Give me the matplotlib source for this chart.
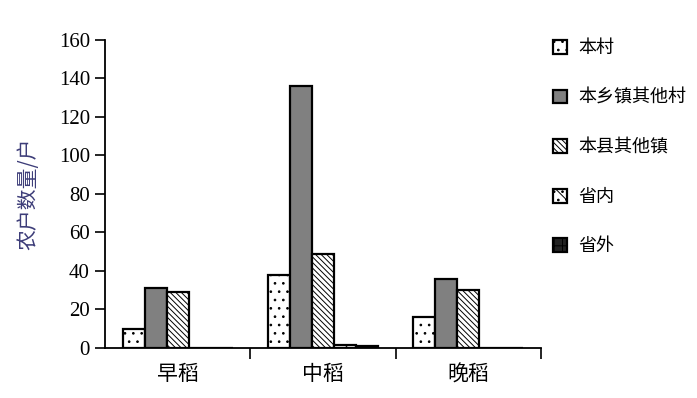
import numpy as np
import matplotlib.pyplot as plt

plt.rcParams['font.family'] = ['Noto Sans CJK SC', 'DejaVu Sans']
plt.rcParams['hatch.linewidth'] = 0.7

# ---- 数据 ----
seasons = ['早稻', '中稻', '晚稻']
series_names = ['本村', '本乡镇其他村', '本县其他镇', '省内', '省外']
bencun = [10, 38, 16]
qitacun = [31, 136, 36]
qitazhen = [29, 49, 30]
shengnei = [0, 1.5, 0]
shengwai = [0, 1, 0]
values = [bencun, qitacun, qitazhen, shengnei, shengwai]

facecolors = ['white', '#808080', 'white', 'white', '#222222']
hatches = ['..', None, '\\\\\\\\\\\\', '\\\\..', '++']

fig = plt.figure(figsize=(6.97, 3.98), dpi=100)
ax = fig.add_axes([0.151, 0.126, 0.625, 0.774])

x = np.arange(len(seasons))
w = 0.152
offsets = (np.arange(5) - 2) * w
for i in range(5):
    ax.bar(x + offsets[i], values[i], width=w, color=facecolors[i],
           edgecolor='black', linewidth=1.6, hatch=hatches[i],
           label=series_names[i], zorder=3)

ax.set_xlim(-0.5, 2.5)
ax.set_ylim(0, 160)
ax.set_yticks(range(0, 161, 20))
ax.set_yticklabels([str(v) for v in range(0, 161, 20)],
                   family='Liberation Serif', fontsize=15)
ax.set_xticks(x)
ax.set_xticklabels(seasons, fontsize=15)
ax.tick_params(axis='x', which='major', length=0, pad=11)
ax.set_xticks([0.5, 1.5, 2.5], minor=True)
ax.tick_params(axis='x', which='minor', length=8, width=1.2, direction='out')
ax.tick_params(axis='y', length=7, width=1.2, direction='out', pad=4)

for s in ['top', 'right']:
    ax.spines[s].set_visible(False)
for s in ['left', 'bottom']:
    ax.spines[s].set_linewidth(1.3)

ax.set_ylabel('农户数量/户', fontsize=15, color='#3c3c78', labelpad=14)

ax.legend(loc='upper left', bbox_to_anchor=(0.99, 1.055), frameon=False,
          fontsize=13, handlelength=0.8, handleheight=0.8,
          labelspacing=1.75, handletextpad=0.6)

fig.savefig('out.png', dpi=100)
